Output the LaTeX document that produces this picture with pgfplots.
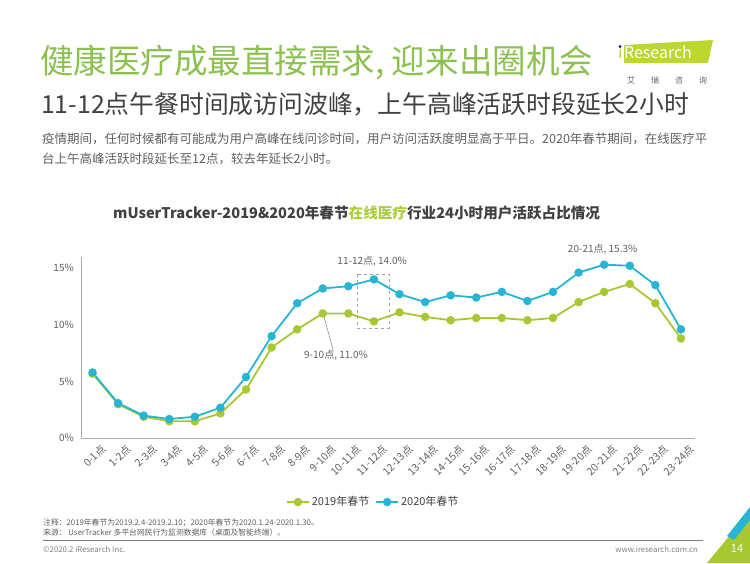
\documentclass[border=0pt]{standalone}
\usepackage{fontspec}
\setmainfont{Noto Sans CJK SC}
\usepackage{pgfplots}
\pgfplotsset{compat=1.18}
\definecolor{titlegreen}{RGB}{140,193,80}
\definecolor{hl}{RGB}{170,205,60}
\definecolor{cA}{RGB}{168,200,50}
\definecolor{cB}{RGB}{40,180,212}
\definecolor{txt}{RGB}{64,64,64}
\definecolor{txtl}{RGB}{95,95,95}
\definecolor{axg}{RGB}{170,170,170}
\definecolor{logog}{RGB}{190,214,48}
\definecolor{logob}{RGB}{30,40,110}
\begin{document}
\begin{tikzpicture}
\useasboundingbox (0,0) rectangle (750pt,563pt);
% titles
\node[anchor=west, inner sep=0, text=titlegreen, font=\fontsize{33.5}{38}\selectfont] at (40pt,501pt) {健康医疗成最直接需求, 迎来出圈机会};
\node[anchor=west, inner sep=0, text=txt, font=\fontsize{24.8}{28}\selectfont] at (41pt,459pt) {11-12点午餐时间成访问波峰，上午高峰活跃时段延长2小时};
\node[anchor=west, inner sep=0, text=txtl, font=\fontsize{12.5}{15}\selectfont] at (42pt,424pt) {疫情期间，任何时候都有可能成为用户高峰在线问诊时间，用户访问活跃度明显高于平日。2020年春节期间，在线医疗平};
\node[anchor=west, inner sep=0, text=txtl, font=\fontsize{12.5}{15}\selectfont] at (42pt,404pt) {台上午高峰活跃时段延长至12点，较去年延长2小时。};
\node[anchor=west, inner sep=0, text=txt, font=\fontsize{14.6}{17}\selectfont\bfseries] at (113pt,350pt) {mUserTracker-2019\&2020年春节\textcolor{hl}{在线医疗}行业24小时用户活跃占比情况};
% logo
\fill[logog] (624pt,500pt) -- (624pt,518pt) -- (713pt,523pt) -- (708pt,500pt) -- cycle;
\node[anchor=base west, inner sep=0, font=\fontsize{16}{18}\selectfont] at (618pt,504.5pt) {\textcolor{logog}{i}\hspace{1.5pt}\textcolor{white}{Research}};
\fill[logob] (620.1pt,516.3pt) circle (1.6pt);
\node[text=txtl, inner sep=0, font=\fontsize{8}{9}\selectfont] at (667pt,483pt) {艾\hspace{16pt}瑞\hspace{16pt}咨\hspace{16pt}询};
% footer
\node[anchor=west, inner sep=0, text=txtl, font=\fontsize{7.8}{9}\selectfont] at (43pt,40pt) {注释：2019年春节为2019.2.4-2019.2.10；2020年春节为2020.1.24-2020.1.30。};
\node[anchor=west, inner sep=0, text=txtl, font=\fontsize{7.8}{9}\selectfont] at (43pt,30pt) {来源：\ UserTracker 多平台网民行为监测数据库（桌面及智能终端）。};
\draw[gray, line width=1pt] (43pt,22.5pt) -- (703pt,22.5pt);
\node[anchor=west, inner sep=0, text=gray, font=\fontsize{7.8}{9}\selectfont] at (43pt,14pt) {©2020.2 iResearch Inc.};
\node[anchor=east, inner sep=0, text=gray, font=\fontsize{7.8}{9}\selectfont] at (698pt,14pt) {www.iresearch.com.cn};
\fill[cA] (707pt,0pt) -- (750pt,0pt) -- (750pt,52pt) -- cycle;
\fill[cB] (727pt,27pt) -- (750pt,56pt) -- (750pt,43pt) -- (734pt,23pt) -- cycle;
\node[text=white, inner sep=0, font=\fontsize{11}{12}\selectfont] at (737pt,14pt) {14};
\begin{axis}[
  at={(81pt,124.7pt)}, anchor=south west,
  scale only axis, width=614pt, height=181.6pt,
  xmin=-0.45, xmax=23.55, ymin=0, ymax=16,
  axis x line*=bottom, axis y line*=left,
  x axis line style={axg, line width=1.4pt, -},
  y axis line style={axg, line width=0.8pt, -},
  major tick length=0pt,
  xtick={0,...,23},
  xticklabels={0-1点,1-2点,2-3点,3-4点,4-5点,5-6点,6-7点,7-8点,8-9点,9-10点,10-11点,11-12点,12-13点,13-14点,14-15点,15-16点,16-17点,17-18点,18-19点,19-20点,20-21点,21-22点,22-23点,23-24点},
  xticklabel style={rotate=45, anchor=east, inner sep=0pt, xshift=2pt, yshift=-14pt, text=txtl, font=\fontsize{10.5}{11}\selectfont},
  ytick={0,5,10,15},
  yticklabels={0\%,5\%,10\%,15\%},
  yticklabel style={text=txtl, font=\fontsize{10}{11}\selectfont, inner sep=0pt, xshift=-7pt},
  /pgf/number format/assume math mode=true,
  clip=false,
  legend columns=2,
  legend style={at={(axis description cs:0.476,-0.351)}, anchor=center, draw=none, fill=none, font=\fontsize{11}{12}\selectfont, text=txt, /tikz/every even column/.append style={column sep=4pt}},
  legend image code/.code={\draw[#1] (0pt,0pt) -- (22pt,0pt); \draw[#1, mark repeat=2, mark phase=2] plot coordinates {(0pt,0pt) (11pt,0pt) (22pt,0pt)};},
]
\addplot[cA, line width=1.8pt, mark=*, mark size=3.3pt] coordinates {
(0,5.7)(1,3.0)(2,1.9)(3,1.5)(4,1.5)(5,2.2)(6,4.3)(7,8.0)(8,9.6)(9,11.0)(10,11.0)(11,10.3)
(12,11.1)(13,10.7)(14,10.4)(15,10.6)(16,10.6)(17,10.4)(18,10.6)(19,12.0)(20,12.9)(21,13.6)(22,11.9)(23,8.8)};
\addlegendentry{2019年春节}
\addplot[cB, line width=1.8pt, mark=*, mark size=3.3pt] coordinates {
(0,5.8)(1,3.1)(2,2.0)(3,1.7)(4,1.9)(5,2.7)(6,5.4)(7,9.0)(8,11.9)(9,13.2)(10,13.4)(11,14.0)
(12,12.7)(13,12.0)(14,12.6)(15,12.4)(16,12.9)(17,12.1)(18,12.9)(19,14.6)(20,15.3)(21,15.2)(22,13.5)(23,9.6)};
\addlegendentry{2020年春节}
\draw[gray!70, dashed, line width=0.6pt] (axis cs:10.34,14.47) rectangle (axis cs:11.59,9.71);
\node[text=txtl, font=\fontsize{10}{11}\selectfont, inner sep=0] at (axis cs:10.93,15.56) {11-12点, 14.0\%};
\draw[gray, line width=0.5pt] (axis cs:9.04,10.8) -- (axis cs:9.41,7.73);
\node[text=txtl, font=\fontsize{10}{11}\selectfont, inner sep=0] at (axis cs:9.52,7.35) {9-10点, 11.0\%};
\node[text=txtl, font=\fontsize{10}{11}\selectfont, inner sep=0] at (axis cs:19.94,16.7) {20-21点, 15.3\%};
\end{axis}
\end{tikzpicture}
\end{document}
